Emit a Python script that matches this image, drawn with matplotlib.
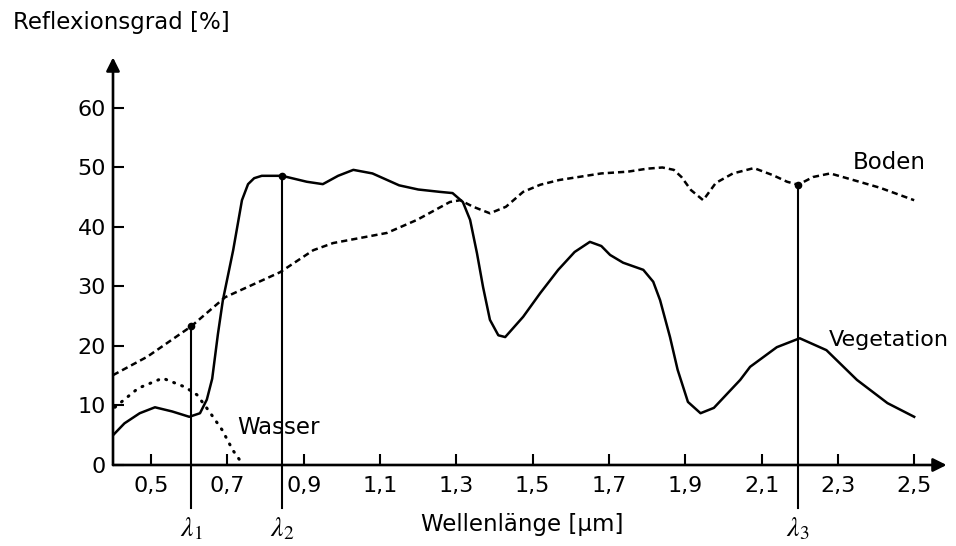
import numpy as np
import matplotlib
matplotlib.use('Agg')
import matplotlib.pyplot as plt

plt.rcParams['font.family'] = ['DejaVu Sans']
plt.rcParams['mathtext.fontset'] = 'stix'

# Vegetation (solid)
veg_x = [0.40, 0.43, 0.47, 0.51, 0.555, 0.60, 0.628, 0.646, 0.66, 0.675, 0.688,
         0.715, 0.738, 0.754, 0.77, 0.79, 0.843, 0.908, 0.95, 0.99, 1.03, 1.08,
         1.15, 1.20, 1.257, 1.29, 1.317, 1.336, 1.354, 1.37, 1.388, 1.41, 1.428,
         1.475, 1.52, 1.567, 1.61, 1.65, 1.68, 1.703, 1.737, 1.79, 1.816, 1.834,
         1.86, 1.88, 1.907, 1.94, 1.975, 2.044, 2.07, 2.14, 2.20, 2.27, 2.35,
         2.43, 2.50]
veg_y = [5.0, 7.0, 8.7, 9.7, 9.0, 8.1, 8.7, 11.0, 14.5, 22.0, 27.7,
         36.1, 44.5, 47.2, 48.2, 48.6, 48.6, 47.6, 47.2, 48.6, 49.6, 49.0,
         47.0, 46.3, 45.9, 45.7, 44.2, 41.2, 35.6, 29.9, 24.4, 21.8, 21.5,
         24.9, 28.9, 32.8, 35.8, 37.5, 36.8, 35.3, 34.0, 32.8, 30.8, 27.7,
         21.5, 16.0, 10.6, 8.7, 9.6, 14.3, 16.5, 19.8, 21.3, 19.3, 14.3,
         10.4, 8.1]

# Boden (dashed)
bod_x = [0.40, 0.49, 0.605, 0.694, 0.838, 0.925, 0.977, 1.118, 1.197, 1.283,
         1.31, 1.344, 1.388, 1.43, 1.475, 1.52, 1.57, 1.68, 1.75, 1.80, 1.84,
         1.87, 1.89, 1.915, 1.947, 1.98, 2.025, 2.08, 2.13, 2.167, 2.196,
         2.235, 2.28, 2.34, 2.41, 2.50]
bod_y = [15.1, 18.2, 23.3, 28.2, 32.4, 36.1, 37.3, 39.0, 41.2, 44.2,
         44.5, 43.4, 42.3, 43.4, 45.9, 47.1, 47.9, 49.0, 49.3, 49.8, 50.0,
         49.6, 48.4, 46.2, 44.5, 47.4, 49.0, 49.9, 48.7, 47.6, 47.1,
         48.4, 49.0, 47.9, 46.6, 44.5]

# Wasser (dotted)
was_x = [0.405, 0.466, 0.53, 0.589, 0.62, 0.65, 0.686, 0.714, 0.738]
was_y = [9.7, 12.9, 14.6, 13.1, 11.8, 9.2, 5.9, 2.5, 0.3]

# marked wavelengths
lam_x = [0.605, 0.843, 2.196]
lam_top = [23.3, 48.6, 47.1]
lam_labels = [r'$\lambda_1$', r'$\lambda_2$', r'$\lambda_3$']

xticks = [0.5, 0.7, 0.9, 1.1, 1.3, 1.5, 1.7, 1.9, 2.1, 2.3, 2.5]
yticks = [0, 10, 20, 30, 40, 50, 60]

W, H = 956, 546
fig = plt.figure(figsize=(W / 100, H / 100), dpi=100)
ax = fig.add_axes([113 / W, (H - 465) / H, 833.6 / W, 407.6 / H])
ax.set_xlim(0.4, 2.585)
ax.set_ylim(0, 68.5)

ax.plot(veg_x, veg_y, color='black', lw=1.8, solid_joinstyle='round')
ax.plot(bod_x, bod_y, color='black', lw=1.8, dashes=(2.5, 1.6))
ax.plot(was_x, was_y, color='black', lw=2.2, linestyle=(0, (0.3, 2.5)),
        dash_capstyle='round')

for lx, ly, lab in zip(lam_x, lam_top, lam_labels):
    ax.plot([lx, lx], [-7.2, ly], color='black', lw=1.5, clip_on=False)
    ax.plot(lx, ly, 'o', color='black', ms=4.5)
    ax.text(lx, -0.155, lab, transform=ax.get_xaxis_transform(),
            ha='center', va='center', fontsize=20)

ax.text(2.34, 50.8, 'Boden', fontsize=16.5, va='center', ha='left')
ax.text(2.275, 21.0, 'Vegetation', fontsize=16, va='center', ha='left',
        clip_on=False)
ax.text(0.725, 6.3, 'Wasser', fontsize=16.5, va='center', ha='left')

for s in ax.spines.values():
    s.set_visible(False)
ax.annotate('', xy=(1, 0), xytext=(0, 0), xycoords='axes fraction',
            arrowprops=dict(arrowstyle='-|>', lw=1.9, color='black',
                            mutation_scale=20, shrinkA=0, shrinkB=0))
ax.annotate('', xy=(0, 1), xytext=(0, 0), xycoords='axes fraction',
            arrowprops=dict(arrowstyle='-|>', lw=1.9, color='black',
                            mutation_scale=20, shrinkA=0, shrinkB=0))

ax.set_xticks(xticks)
ax.set_xticklabels([f'{t:.1f}'.replace('.', ',') for t in xticks])
ax.set_yticks(yticks)
ax.set_yticklabels([str(t) for t in yticks])
ax.tick_params(direction='in', length=8, width=1.5, labelsize=16, pad=8)
ax.tick_params(axis='y', pad=5)

fig.text(13 / W, 1 - 22 / H, 'Reflexionsgrad [%]', fontsize=16.5,
         ha='left', va='center')
fig.text(522 / W, 1 - 525 / H, 'Wellenlänge [µm]', fontsize=16.5,
         ha='center', va='center')

fig.savefig('out.png', dpi=100)
